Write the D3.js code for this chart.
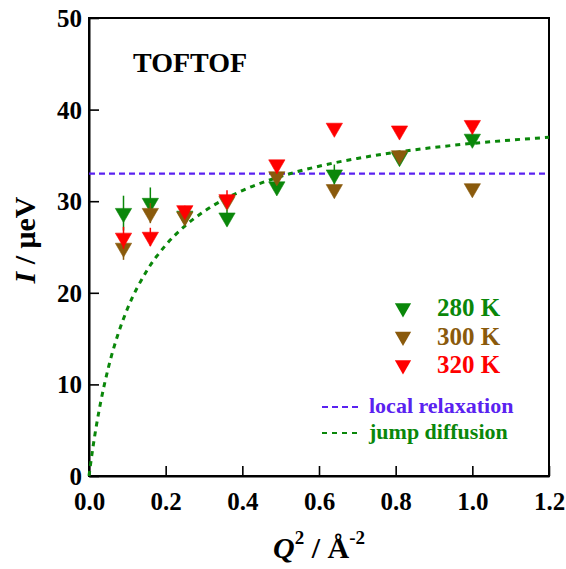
<!DOCTYPE html>
<html>
<head>
<meta charset="utf-8">
<script src="https://cdn.jsdelivr.net/npm/d3@7"></script>
<style>
  html, body { margin: 0; padding: 0; background: #fff; }
  svg { display: block; }
  text { font-family: "Liberation Serif", "Times New Roman", serif; font-weight: bold; }
</style>
</head>
<body>
<svg id="chart" width="566" height="569" font-family="Liberation Serif, serif"></svg>
<script>
// ---- data ----
const q2 = [0.09, 0.16, 0.25, 0.36, 0.49, 0.64, 0.81, 1.0];
const gamma280 = [28.7, 29.8, 28.4, 28.2, 31.6, 32.9, 34.8, 36.8];
const err280   = [1.9, 1.7, 0.5, 0.9, 0.6, 1.1, 0.6, 0.6];
const gamma300 = [24.9, 28.7, 28.3, 30.0, 32.7, 31.3, 35.0, 31.4];
const err300   = [1.3, 1.1, 0.5, 0.4, 0.5, 0.4, 0.5, 0.4];
const gamma320 = [26.0, 26.1, 29.0, 30.2, 34.0, 38.0, 37.7, 38.3];
const err320   = [1.2, 1.0, 0.5, 1.0, 0.5, 0.4, 0.4, 0.4];
const seriesNames = ["280 K", "300 K", "320 K"];
const seriesColors = ["#0a870a", "#8a5a0c", "#ff0000"];
const localRelaxation = 33.0;
// jump diffusion fit curve
const curveQ2    = [0, 0.01, 0.02, 0.03, 0.05, 0.075, 0.1, 0.15, 0.2, 0.25, 0.3, 0.4, 0.5, 0.6, 0.7, 0.8, 0.9, 1.0, 1.1, 1.2];
const curveGamma = [0, 3.05, 5.67, 7.96, 11.74, 15.39, 18.23, 22.35, 25.2, 27.29, 28.88, 31.16, 32.7, 33.82, 34.67, 35.33, 35.87, 36.31, 36.67, 36.98];
const xTicks = [0, 0.2, 0.4, 0.6, 0.8, 1.0, 1.2];
const yTicks = [0, 10, 20, 30, 40, 50];
const lineLegend = ["local relaxation", "jump diffusion"];
const lineColors = ["#5a22f0", "#0a870a"];

// ---- layout ----
const svg = d3.select("#chart");
const L = 89, R = 549, T = 18, B = 476;
const x = d3.scaleLinear().domain([0, 1.2]).range([L, R]);
const y = d3.scaleLinear().domain([0, 50]).range([B, T]);

// frame
svg.append("rect").attr("x", L).attr("y", T).attr("width", R - L).attr("height", B - T)
  .attr("fill", "none").attr("stroke", "#000").attr("stroke-width", 2);

// axes with inward ticks
const xAxis = svg.append("g").attr("transform", `translate(0,${B})`)
  .call(d3.axisBottom(x).tickValues(xTicks).tickFormat(d3.format(".1f")).tickSizeInner(-10).tickSizeOuter(0).tickPadding(16));
const yAxis = svg.append("g").attr("transform", `translate(${L},0)`)
  .call(d3.axisLeft(y).tickValues(yTicks).tickFormat(d3.format("d")).tickSizeInner(-10).tickSizeOuter(0).tickPadding(7));
[xAxis, yAxis].forEach(g => {
  g.attr("font-family", null);
  g.select(".domain").attr("stroke", "#000").attr("stroke-width", 2);
  g.selectAll(".tick line").attr("stroke", "#000").attr("stroke-width", 1.6);
  g.selectAll(".tick text").attr("fill", "#000").style("font-size", "25px")
    .style("font-family", '"Liberation Serif", serif').style("font-weight", "bold");
});
yAxis.selectAll(".tick text").attr("dy", "0.34em");
xAxis.selectAll(".tick text").attr("dy", "0.71em");

// axis titles
const xt = svg.append("text").attr("x", 319).attr("y", 558).attr("text-anchor", "middle")
  .style("font-size", "30px").attr("fill", "#000");
xt.append("tspan").style("font-style", "italic").text("Q");
xt.append("tspan").attr("dy", -14).style("font-size", "19px").text("2");
xt.append("tspan").attr("dy", 14).text(" / Å");
xt.append("tspan").attr("dy", -14).style("font-size", "19px").text("-2");

const yt = svg.append("text").attr("transform", "translate(35,240) rotate(-90)")
  .attr("text-anchor", "middle").style("font-size", "30px").attr("fill", "#000");
yt.append("tspan").style("font-style", "italic").text("I");
yt.append("tspan").text(" / μeV");

// title
svg.append("text").attr("x", 133).attr("y", 72).style("font-size", "28px").attr("fill", "#000").text("TOFTOF");

// reference lines
svg.append("line").attr("x1", L).attr("x2", R).attr("y1", y(localRelaxation)).attr("y2", y(localRelaxation))
  .attr("stroke", lineColors[0]).attr("stroke-width", 2.2).attr("stroke-dasharray", "6,4");

const curve = d3.line().x((d, i) => x(curveQ2[i])).y(d => y(d)).curve(d3.curveMonotoneX);
svg.append("path").attr("d", curve(curveGamma)).attr("fill", "none")
  .attr("stroke", lineColors[1]).attr("stroke-width", 3).attr("stroke-dasharray", "5,5");

// data
const allSeries = [[gamma280, err280], [gamma300, err300], [gamma320, err320]];
const tri = d3.symbol().type(d3.symbolTriangle).size(115);
allSeries.forEach(([vals, errs], s) => {
  const g = svg.append("g");
  g.selectAll("line").data(vals).join("line")
    .attr("x1", (d, i) => x(q2[i])).attr("x2", (d, i) => x(q2[i]))
    .attr("y1", (d, i) => y(d - errs[i])).attr("y2", (d, i) => y(d + errs[i]))
    .attr("stroke", seriesColors[s]).attr("stroke-width", 1.5);
  g.selectAll("path").data(vals).join("path")
    .attr("d", tri)
    .attr("transform", (d, i) => `translate(${x(q2[i])},${y(d)}) rotate(180)`)
    .attr("fill", seriesColors[s]).attr("stroke", seriesColors[s]).attr("stroke-width", 0.6);
});

// series legend
seriesNames.forEach((name, i) => {
  const cy = 308 + i * 28.5;
  svg.append("path").attr("d", tri).attr("transform", `translate(403,${cy}) rotate(180)`)
    .attr("fill", seriesColors[i]);
  svg.append("text").attr("x", 437).attr("y", cy + 8).style("font-size", "25px")
    .attr("fill", seriesColors[i]).text(name);
});

// line legend
lineLegend.forEach((name, i) => {
  const ly = 407 + i * 26;
  svg.append("line").attr("x1", 322).attr("x2", 358).attr("y1", ly).attr("y2", ly)
    .attr("stroke", lineColors[i]).attr("stroke-width", 2.2)
    .attr("stroke-dasharray", i === 0 ? "6,4" : "5,5");
  svg.append("text").attr("x", 369).attr("y", ly + 6).style("font-size", "22px")
    .attr("fill", lineColors[i]).text(name);
});
</script>
</body>
</html>
